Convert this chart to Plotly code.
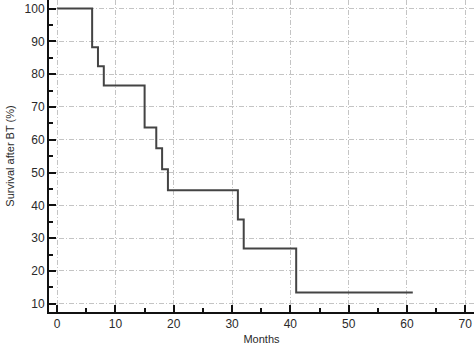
import plotly.graph_objects as go

months = [0, 6, 7, 8, 15, 17, 18, 19, 31, 32, 41, 61]
survival = [100, 88.2, 82.4, 76.5, 63.7, 57.4, 51.0, 44.6, 35.7, 26.8, 13.4, 13.4]
x_ticks = [0, 10, 20, 30, 40, 50, 60, 70]
y_ticks = [10, 20, 30, 40, 50, 60, 70, 80, 90, 100]

fig = go.Figure()
fig.add_trace(go.Scatter(
    x=months, y=survival, mode="lines", line_shape="hv",
    line=dict(color="#444444", width=2), showlegend=False, hoverinfo="skip",
))

axis_common = dict(
    showline=True, linecolor="#111111", linewidth=2,
    ticks="inside", ticklen=7, tickwidth=2, tickcolor="#111111",
    showgrid=True, gridcolor="#c4c4c4", gridwidth=1, griddash="5px,2px,1px,2px",
    zeroline=False, mirror=False, automargin=False,
    tickfont=dict(family="Liberation Sans, Arial", size=12, color="#2a2a2a"),
    title_font=dict(family="Liberation Sans, Arial", size=11, color="#2a2a2a"),
)

fig.update_xaxes(
    range=[-1.4, 71.5], tickvals=x_ticks,
    minor=dict(dtick=5, tick0=0, ticks="inside", ticklen=4, tickwidth=1.5, tickcolor="#111111", showgrid=False),
    title=dict(text="Months", standoff=5),
    **axis_common,
)
fig.update_yaxes(
    range=[7.47, 102.6], tickvals=y_ticks,
    minor=dict(dtick=5, tick0=0, ticks="inside", ticklen=4, tickwidth=1.5, tickcolor="#111111", showgrid=False),
    title=dict(text="Survival after BT (%)", standoff=8),
    **axis_common,
)

fig.update_layout(
    width=474, height=345,
    margin=dict(l=49, r=0, t=0, b=33),
    plot_bgcolor="white", paper_bgcolor="white",
)

fig.write_html(
    "out.html",
    config={"displayModeBar": False},
    post_script="document.body.style.margin='0';document.body.style.overflow='hidden';",
)
